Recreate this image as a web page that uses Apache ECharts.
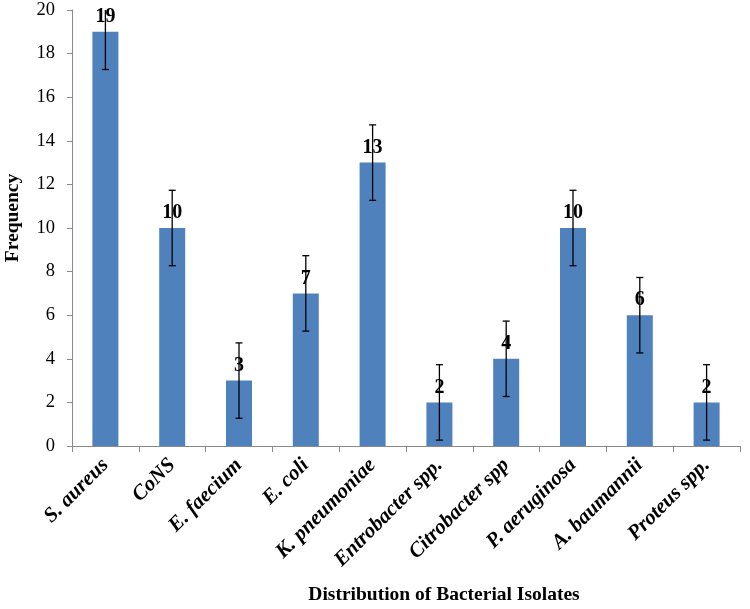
<!DOCTYPE html>
<html><head><meta charset="utf-8">
<script src="https://cdn.jsdelivr.net/npm/echarts@6/dist/echarts.min.js"></script>
<style>html,body{margin:0;padding:0;background:#fff}#c{width:750px;height:609px}</style>
</head><body><div id="c"></div>
<script>
var categories = ['S. aureus','CoNS','E. faecium','E. coli','K. pneumoniae','Entrobacter spp.','Citrobacter spp','P. aeruginosa','A. baumannii','Proteus spp.'];
var frequency = [19,10,3,7,13,2,4,10,6,2];
var errors = [1.73,1.73,1.73,1.73,1.73,1.73,1.73,1.73,1.73,1.73];
var yTicks = {min:0, max:20, interval:2};
var xTitle = 'Distribution of Bacterial Isolates';
var yTitle = 'Frequency';

var errData = frequency.map(function(v,i){return [i, v-errors[i], v+errors[i]];});
var font = "'Liberation Serif','Times New Roman',serif";
var chart = echarts.init(document.getElementById('c'), null, {renderer:'canvas'});
chart.setOption({
  animation:false,
  grid:{left:72,right:10,top:10,bottom:163,containLabel:false,outerBoundsMode:'none'},
  graphic:[
    {type:'text',x:444,y:595,style:{text:xTitle,font:'bold 19.5px '+font,fill:'#000',textAlign:'center',textVerticalAlign:'middle'}},
    {type:'text',x:13,y:218,rotation:Math.PI/2,style:{text:yTitle,font:'bold 19.5px '+font,fill:'#000',textAlign:'center',textVerticalAlign:'middle'}}
  ],
  xAxis:{type:'category',data:categories,
    axisLine:{lineStyle:{color:'#898989',width:1}},
    axisTick:{show:true,length:6,lineStyle:{color:'#898989'}},
    axisLabel:{rotate:45,interval:0,margin:16,color:'#000',fontFamily:font,fontSize:21,fontWeight:'bold',fontStyle:'italic'}},
  yAxis:{type:'value',min:yTicks.min,max:yTicks.max,interval:yTicks.interval,
    axisLine:{show:true,lineStyle:{color:'#898989'}},
    axisTick:{show:true,length:5,lineStyle:{color:'#898989'}},
    splitLine:{show:false},
    axisLabel:{color:'#000',fontFamily:font,fontSize:18.5,margin:17}},
  series:[
    {type:'bar',data:frequency,barWidth:26,itemStyle:{color:'#4F81BD'},
     label:{show:true,position:'top',distance:5,color:'#000',fontFamily:font,fontSize:20,fontWeight:'bold'},z:2},
    {type:'custom',data:errData,z:3,
     renderItem:function(params,api){
       var x=api.value(0);
       var lo=api.coord([x,api.value(1)]);
       var hi=api.coord([x,api.value(2)]);
       var top=params.coordSys.y;
       var hy=Math.max(hi[1],top);
       var w=3.5;
       var children=[{type:'line',shape:{x1:lo[0],y1:lo[1],x2:lo[0],y2:hy},style:{stroke:'#000',lineWidth:1.3}},
         {type:'line',shape:{x1:lo[0]-w,y1:lo[1],x2:lo[0]+w,y2:lo[1]},style:{stroke:'#000',lineWidth:1.3}}];
       if(hi[1]>=top){children.push({type:'line',shape:{x1:lo[0]-w,y1:hi[1],x2:lo[0]+w,y2:hi[1]},style:{stroke:'#000',lineWidth:1.3}});}
       return {type:'group',children:children};
     }}
  ]
});
</script></body></html>
